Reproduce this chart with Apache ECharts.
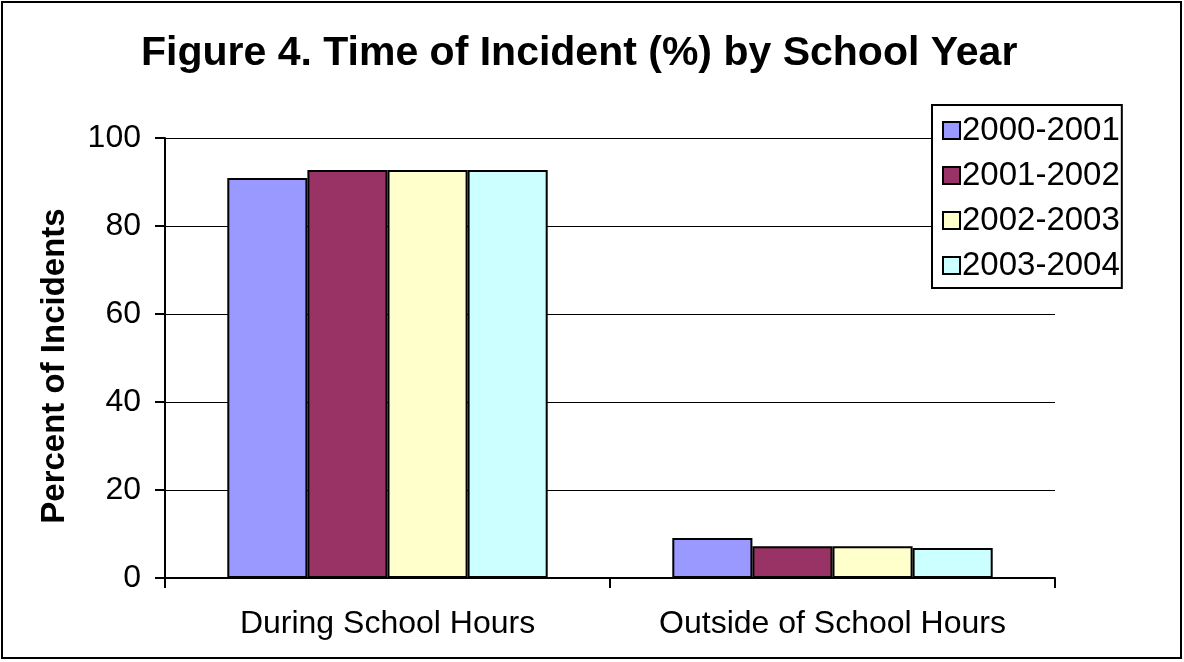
<!DOCTYPE html>
<html>
<head>
<meta charset="utf-8">
<script src="https://cdn.jsdelivr.net/npm/echarts@6/dist/echarts.min.js"></script>
<style>
  html, body { margin: 0; padding: 0; background: #fff; }
  #chart { width: 1184px; height: 662px; }
</style>
</head>
<body>
<div id="chart"></div>
<script>
// data
const categories = ['During School Hours', 'Outside of School Hours']
const years = ['2000-2001', '2001-2002', '2002-2003', '2003-2004']
const values = [
  [90.9, 9.1],
  [92.7, 7.2],
  [92.7, 7.2],
  [92.7, 6.8]
]
const colors = ['#9999FF', '#993366', '#FFFFCC', '#CCFFFF']
const yTicks = [0, 20, 40, 60, 80, 100]

const font = 'Liberation Sans, Arial, sans-serif'
const chart = echarts.init(document.getElementById('chart'))

const option = {
  animation: false,
  color: colors,
  title: {
    text: 'Figure 4. Time of Incident (%) by School Year',
    left: 136,
    top: 28,
    textStyle: { fontFamily: font, fontSize: 41, fontWeight: 'bold', color: '#000' }
  },
  graphic: [{
    type: 'rect',
    shape: { x: 2, y: 2, width: 1179, height: 656 },
    style: { fill: 'none', stroke: '#000', lineWidth: 2 },
    silent: true
  }],
  legend: {
    orient: 'vertical',
    left: 932,
    top: 105,
    padding: [9, 2, 6, 10],
    itemGap: 12,
    itemWidth: 17,
    itemHeight: 17,
    icon: 'rect',
    backgroundColor: '#fff',
    borderColor: '#000',
    borderWidth: 2,
    data: years,
    textStyle: { fontFamily: font, fontSize: 33, color: '#000', padding: [0, 0, 0, -3] },
    itemStyle: { borderColor: '#000', borderWidth: 2 }
  },
  grid: { left: 165, right: 129, top: 138, bottom: 84 },
  xAxis: {
    type: 'category',
    data: categories,
    axisLine: { lineStyle: { color: '#000', width: 2 } },
    axisTick: { show: true, interval: 0, length: 10, lineStyle: { color: '#000', width: 2 } },
    axisLabel: { interval: 0, fontFamily: font, fontSize: 32, color: '#000', margin: 30 }
  },
  yAxis: {
    type: 'value',
    min: yTicks[0],
    max: yTicks[yTicks.length - 1],
    interval: 20,
    name: 'Percent of Incidents',
    nameLocation: 'middle',
    nameRotate: 90,
    nameGap: 94,
    nameTextStyle: { fontFamily: font, fontSize: 33, fontWeight: 'bold', color: '#000', padding: [0, 16, 0, 0] },
    axisLine: { show: true, lineStyle: { color: '#000', width: 2 } },
    axisTick: { show: true, length: 10, lineStyle: { color: '#000', width: 2 } },
    axisLabel: { fontFamily: font, fontSize: 32, color: '#000', margin: 24 },
    splitLine: { lineStyle: { color: '#000', width: 1 } }
  },
  series: years.map((y, i) => ({
    name: y,
    type: 'bar',
    data: values[i],
    barGap: '0%',
    barCategoryGap: '28%',
    itemStyle: { borderColor: '#000', borderWidth: 2 }
  }))
}
chart.setOption(option)
</script>
</body>
</html>
